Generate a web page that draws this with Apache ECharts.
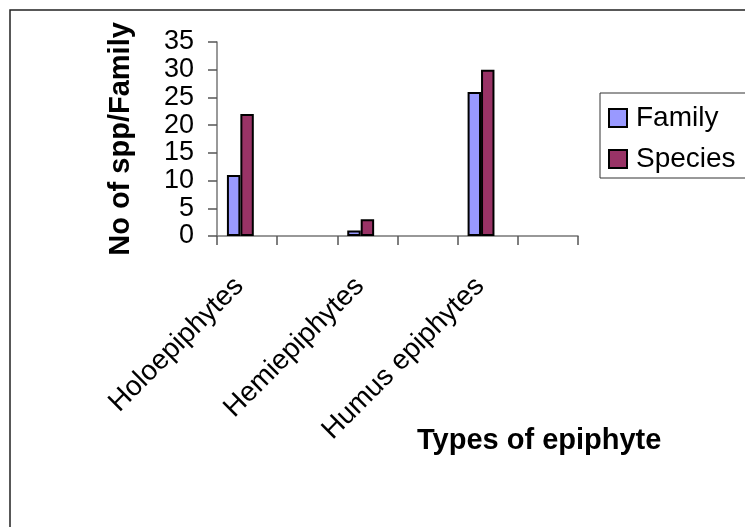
<!DOCTYPE html>
<html>
<head>
<meta charset="utf-8">
<script src="https://cdn.jsdelivr.net/npm/echarts@6/dist/echarts.min.js"></script>
<style>html,body{margin:0;padding:0;background:#fff;}#c{width:745px;height:527px;}</style>
</head>
<body>
<div id="c"></div>
<script>
const categories = ['Holoepiphytes', '', 'Hemiepiphytes', '', 'Humus epiphytes', ''];
const familyValues = [11, null, 1, null, 26, null];
const speciesValues = [22, null, 3, null, 30, null];
const emptyValues = [null, null, null, null, null, null];
const yTicks = { min: 0, max: 35, interval: 5 };
const FONT = "'Liberation Sans', Arial, sans-serif";

const chart = echarts.init(document.getElementById('c'), null, { renderer: 'canvas' });
chart.setOption({
  backgroundColor: '#ffffff',
  animation: false,
  title: {
    text: 'Types of epiphyte',
    left: 412, top: 421,
    textStyle: { fontFamily: FONT, fontSize: 29, fontWeight: 'bold', color: '#000' }
  },
  legend: {
    data: ['Family', 'Species'],
    orient: 'vertical',
    left: 603, top: 99,
    itemWidth: 18, itemHeight: 18, itemGap: 13,
    icon: 'rect',
    textStyle: { fontFamily: FONT, fontSize: 28, color: '#000', padding: [0, 0, 0, 4] },
    selectedMode: false
  },
  grid: { left: 217, right: 167, top: 42, bottom: 291, containLabel: false },
  xAxis: {
    type: 'category',
    data: categories,
    axisLine: { lineStyle: { color: '#777', width: 1.5 } },
    axisTick: { show: true, length: 9, lineStyle: { color: '#555', width: 1.5 } },
    axisLabel: { rotate: 45, margin: 38, interval: 0, fontFamily: FONT, fontSize: 28, color: '#000',
      padding: [0, 11, 0, 0] }
  },
  yAxis: {
    type: 'value',
    min: yTicks.min, max: yTicks.max, interval: yTicks.interval,
    name: 'No of spp/Family',
    nameLocation: 'middle',
    nameGap: 82,
    nameTextStyle: { fontFamily: FONT, fontSize: 29, fontWeight: 'bold', color: '#000' },
    axisLine: { show: true, lineStyle: { color: '#777', width: 1.5 } },
    axisTick: { show: true, length: 9, lineStyle: { color: '#555', width: 1.5 } },
    splitLine: { show: false },
    axisLabel: { margin: 23, fontFamily: FONT, fontSize: 27, color: '#000' }
  },
  series: [
    { name: 'Family', type: 'bar', data: familyValues, barGap: '0%', barCategoryGap: '33%',
      itemStyle: { color: '#9999FF', borderColor: '#000', borderWidth: 2 } },
    { name: 'Species', type: 'bar', data: speciesValues,
      itemStyle: { color: '#993366', borderColor: '#000', borderWidth: 2 } },
    { name: 'blank', type: 'bar', data: emptyValues,
      itemStyle: { color: '#FFFFCC', borderColor: '#000', borderWidth: 2 } }
  ],
  graphic: [
    { type: 'rect', shape: { x: 10, y: 10, width: 900, height: 900 },
      style: { fill: 'none', stroke: '#222', lineWidth: 1.5 }, silent: true },
    { type: 'rect', shape: { x: 600, y: 93, width: 300, height: 85 },
      style: { fill: 'none', stroke: '#333', lineWidth: 1 }, silent: true }
  ]
});
</script>
</body>
</html>
